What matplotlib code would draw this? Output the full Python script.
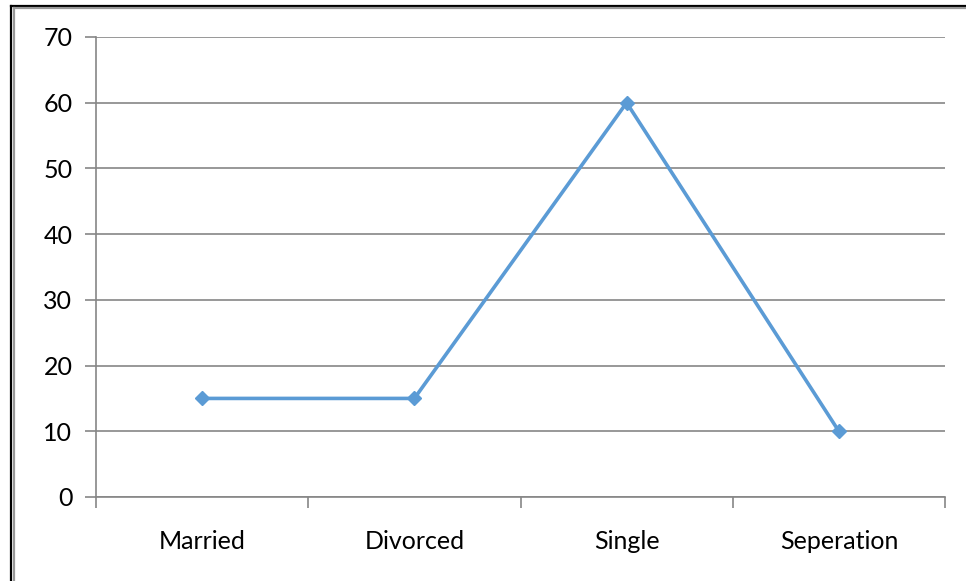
import matplotlib.pyplot as plt
from matplotlib.lines import Line2D

categories = ["Married", "Divorced", "Single", "Seperation"]
values = [15, 15, 60, 10]
y_ticks = [0, 10, 20, 30, 40, 50, 60, 70]

plt.rcParams['font.family'] = ['Lato', 'DejaVu Sans']

W, H = 966, 581
fig = plt.figure(figsize=(W / 100, H / 100), dpi=100)
ax = fig.add_axes([96 / W, 1 - 497 / H, (945 - 96) / W, (497 - 37) / H])

x = [i + 0.5 for i in range(len(categories))]
ax.plot(x, values, color="#5B9BD5", lw=2.6, marker="D", ms=7,
        markeredgecolor="#5B9BD5", zorder=3)

ax.set_xlim(0, len(categories))
ax.set_ylim(0, 70)
ax.set_yticks(y_ticks)
ax.set_yticklabels([str(v) for v in y_ticks], fontsize=18)
ax.set_xticks(range(len(categories) + 1))
ax.set_xticklabels([])
ax.set_xticks(x, minor=True)
ax.set_xticklabels(categories, minor=True, fontsize=18)
ax.tick_params(axis="x", which="minor", length=0, pad=24)
ax.tick_params(axis="x", which="major", length=8, width=1.2, color="#868686")
ax.tick_params(axis="y", length=8, width=1.2, color="#868686", pad=9)

ax.grid(axis="y", color="#868686", lw=1.2)
ax.set_axisbelow(True)
for side in ["top", "right"]:
    ax.spines[side].set_visible(False)
ax.spines["left"].set_color("#868686")
ax.spines["bottom"].set_color("#868686")
ax.spines["left"].set_linewidth(1.2)
ax.spines["bottom"].set_linewidth(1.2)

# frame around the chart: black outer line with gray inner line on top and left
def px(xp, yp):
    return xp / W, 1 - yp / H

for coords, c in [(((11, 6), (W, 6)), "black"), (((11, 6), (11, H)), "black"),
                  (((14, 8), (W, 8)), "#999999"), (((14, 8), (14, H)), "#999999")]:
    (x0, y0), (x1, y1) = px(*coords[0]), px(*coords[1])
    fig.add_artist(Line2D([x0, x1], [y0, y1], color=c, lw=1.6,
                          transform=fig.transFigure))

fig.savefig("out.png", dpi=100)
